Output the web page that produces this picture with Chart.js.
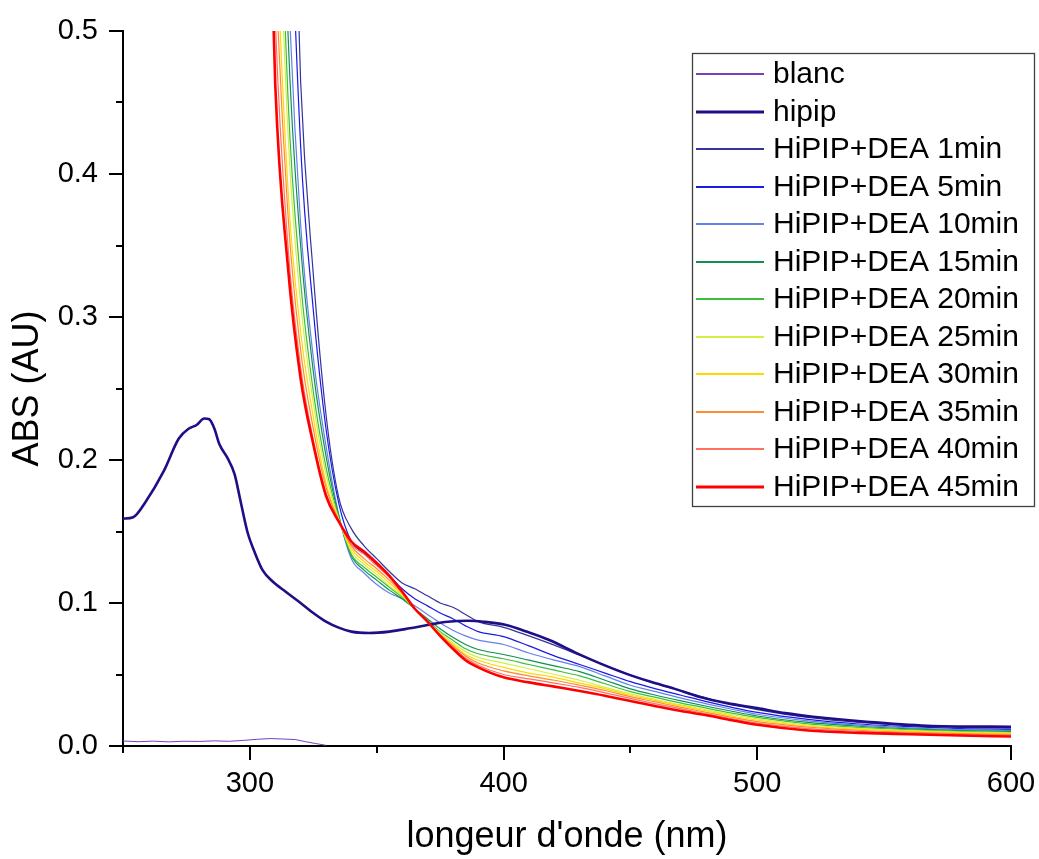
<!DOCTYPE html>
<html>
<head>
<meta charset="utf-8">
<script src="https://cdn.jsdelivr.net/npm/chart.js"></script>
<style>
  html, body { margin: 0; padding: 0; background: #fff; }
  #wrap { width: 1039px; height: 859px; position: relative; }
</style>
</head>
<body>
<div id="wrap"><canvas id="absChart"></canvas></div>
<script>
// axis ticks
const xMajorTicks = [300, 400, 500, 600];
const xMinorTicks = [250, 350, 450, 550];
const yMajorTicks = [0, 0.1, 0.2, 0.3, 0.4, 0.5];
const yMinorTicks = [0.05, 0.15, 0.25, 0.35, 0.45];

// blanc
const blancX = [250, 256, 262, 268, 274, 280, 286, 292, 298, 303, 308, 313, 318, 322, 326, 330];
const blancY = [0.0035, 0.0030, 0.0034, 0.0029, 0.0033, 0.0032, 0.0036, 0.0033, 0.0040, 0.0047, 0.0052, 0.0049, 0.0045, 0.0030, 0.0017, 0.0005];

// hipip
const hipipX = [250, 254, 259, 266, 272, 276, 279, 282, 284, 286, 288, 291, 294, 296, 299, 302, 305, 309, 314, 320,
  325, 330, 335, 340, 347, 355, 363, 370, 378, 386, 392, 401, 409, 418, 429, 438, 448, 458, 467, 477, 488, 500, 511, 522, 543, 569, 600];
const hipipY = [0.159, 0.160, 0.171, 0.192, 0.215, 0.222, 0.2245, 0.229, 0.2285, 0.222, 0.211, 0.202, 0.190, 0.174, 0.150, 0.135, 0.123, 0.115, 0.108, 0.100,
  0.093, 0.087, 0.0828, 0.080, 0.079, 0.080, 0.0823, 0.0846, 0.0869, 0.0876, 0.0869, 0.0846, 0.080, 0.0741, 0.0648, 0.0578, 0.0508, 0.0449, 0.0403, 0.0345, 0.030, 0.0265, 0.023, 0.0205, 0.017, 0.014, 0.0135];

// HiPIP+DEA series, all on the same wavelengths
const deaX = [305, 310, 315, 320, 325, 330, 335, 340, 345, 350, 355, 360, 365, 370, 375, 380, 385, 390,
  400, 410, 420, 430, 440, 450, 460, 470, 480, 490, 500, 520, 540, 560, 580, 600];
const dea1 = [1.8, 1.15, 0.76, 0.465, 0.33, 0.232, 0.174, 0.152, 0.140, 0.131, 0.122, 0.114, 0.110, 0.105, 0.100, 0.097, 0.092, 0.087,
  0.083, 0.077, 0.0705, 0.0635, 0.0565, 0.0495, 0.0435, 0.0385, 0.0335, 0.029, 0.0255, 0.020, 0.0165, 0.0145, 0.013, 0.0125];
const dea5 = [1.6, 1.05, 0.665, 0.42, 0.305, 0.222, 0.17, 0.143, 0.135, 0.127, 0.119, 0.110, 0.103, 0.098, 0.093, 0.089, 0.084, 0.080,
  0.0765, 0.070, 0.063, 0.057, 0.051, 0.045, 0.040, 0.0355, 0.031, 0.027, 0.0235, 0.0186, 0.0154, 0.0135, 0.0122, 0.0116];
const dea10 = [1.4, 0.90, 0.545, 0.365, 0.272, 0.21, 0.162, 0.131, 0.121, 0.113, 0.107, 0.103, 0.098, 0.092, 0.086, 0.081, 0.077, 0.074,
  0.071, 0.065, 0.060, 0.0555, 0.049, 0.0425, 0.038, 0.0335, 0.0295, 0.0257, 0.0222, 0.0176, 0.0146, 0.0127, 0.0115, 0.0109];
const dea15 = [1.3, 0.83, 0.50, 0.35, 0.262, 0.203, 0.161, 0.133, 0.123, 0.116, 0.109, 0.103, 0.096, 0.089, 0.082, 0.076, 0.071, 0.0675,
  0.064, 0.060, 0.056, 0.052, 0.046, 0.040, 0.0355, 0.0315, 0.0278, 0.0243, 0.021, 0.0165, 0.0138, 0.012, 0.0108, 0.0102];
const dea20 = [1.2, 0.74, 0.455, 0.325, 0.248, 0.195, 0.160, 0.134, 0.125, 0.118, 0.111, 0.104, 0.096, 0.088, 0.080, 0.074, 0.068, 0.0645,
  0.061, 0.057, 0.053, 0.049, 0.0435, 0.038, 0.034, 0.030, 0.0265, 0.023, 0.020, 0.0155, 0.013, 0.0113, 0.0102, 0.0096];
const dea25 = [1.1, 0.68, 0.43, 0.31, 0.24, 0.19, 0.159, 0.136, 0.127, 0.120, 0.112, 0.105, 0.096, 0.087, 0.079, 0.072, 0.066, 0.062,
  0.058, 0.054, 0.050, 0.046, 0.041, 0.0365, 0.0325, 0.0287, 0.0253, 0.022, 0.019, 0.0147, 0.0123, 0.0107, 0.0097, 0.0091];
const dea30 = [1.0, 0.60, 0.39, 0.29, 0.23, 0.184, 0.158, 0.138, 0.129, 0.122, 0.114, 0.106, 0.096, 0.087, 0.078, 0.071, 0.064, 0.060,
  0.055, 0.051, 0.048, 0.044, 0.040, 0.0355, 0.0317, 0.028, 0.0245, 0.021, 0.018, 0.014, 0.0117, 0.0102, 0.0092, 0.0086];
const dea35 = [0.92, 0.555, 0.372, 0.277, 0.222, 0.181, 0.158, 0.140, 0.131, 0.124, 0.116, 0.107, 0.096, 0.087, 0.078, 0.070, 0.063, 0.058,
  0.0525, 0.049, 0.046, 0.0425, 0.0388, 0.0345, 0.0308, 0.027, 0.0235, 0.020, 0.017, 0.0132, 0.011, 0.0096, 0.0086, 0.008];
const dea40 = [0.85, 0.51, 0.35, 0.265, 0.214, 0.177, 0.157, 0.141, 0.134, 0.126, 0.118, 0.108, 0.096, 0.087, 0.077, 0.069, 0.0615, 0.0565,
  0.050, 0.047, 0.044, 0.041, 0.0372, 0.0333, 0.0295, 0.026, 0.0225, 0.019, 0.016, 0.0122, 0.0102, 0.009, 0.0081, 0.0075];
const dea45 = [0.78, 0.463, 0.335, 0.257, 0.211, 0.175, 0.157, 0.143, 0.136, 0.128, 0.119, 0.108, 0.096, 0.087, 0.077, 0.068, 0.060, 0.055,
  0.048, 0.0445, 0.0415, 0.0385, 0.0352, 0.0315, 0.0278, 0.0245, 0.0215, 0.018, 0.0148, 0.0108, 0.0092, 0.0082, 0.0073, 0.0066];

const seriesLabels = ["blanc", "hipip", "HiPIP+DEA 1min", "HiPIP+DEA 5min", "HiPIP+DEA 10min", "HiPIP+DEA 15min",
  "HiPIP+DEA 20min", "HiPIP+DEA 25min", "HiPIP+DEA 30min", "HiPIP+DEA 35min", "HiPIP+DEA 40min", "HiPIP+DEA 45min"];
const seriesColors = ["#7a3ec0", "#1e0f86", "#34349c", "#1a1ae6", "#6480ee", "#0f9050", "#3cbe3c",
  "#d2f040", "#ffd800", "#ff8a30", "#ff7060", "#ff0000"];
const seriesWidths = [1, 2.6, 1.2, 1.2, 1.2, 1.2, 1.2, 1.2, 1.2, 1.2, 1.2, 2.6];

const FONT = "'Liberation Sans', Arial, sans-serif";

function pairs(xs, ys) {
  return xs.map((x, i) => ({ x: x, y: ys[i] }));
}

const seriesData = [
  pairs(blancX, blancY), pairs(hipipX, hipipY),
  pairs(deaX, dea1), pairs(deaX, dea5), pairs(deaX, dea10), pairs(deaX, dea15), pairs(deaX, dea20),
  pairs(deaX, dea25), pairs(deaX, dea30), pairs(deaX, dea35), pairs(deaX, dea40), pairs(deaX, dea45)
];

const datasets = seriesData.map((d, i) => ({
  label: seriesLabels[i],
  data: d,
  borderColor: seriesColors[i],
  backgroundColor: seriesColors[i],
  borderWidth: seriesWidths[i],
  pointRadius: 0,
  fill: false,
  cubicInterpolationMode: i === 0 ? 'default' : 'monotone',
  tension: 0,
  // red on top, then hipip, then the rest
  order: i === 11 ? 0 : (i === 1 ? 1 : 20 - i)
}));

// minor ticks, Origin style
const minorTicks = {
  id: 'minorTicks',
  afterDraw(chart) {
    const ctx = chart.ctx;
    const xs = chart.scales.x, ys = chart.scales.y;
    const area = chart.chartArea;
    ctx.save();
    ctx.strokeStyle = '#000';
    ctx.lineWidth = 2;
    ctx.beginPath();
    xMinorTicks.forEach(v => {
      const px = Math.round(xs.getPixelForValue(v));
      ctx.moveTo(px, area.bottom);
      ctx.lineTo(px, area.bottom + 7);
    });
    yMinorTicks.forEach(v => {
      const py = Math.round(ys.getPixelForValue(v));
      ctx.moveTo(area.left, py);
      ctx.lineTo(area.left - 7, py);
    });
    ctx.stroke();
    ctx.restore();
  }
};

// boxed legend inside the plot
const boxLegend = {
  id: 'boxLegend',
  afterDraw(chart) {
    const ctx = chart.ctx;
    const left = 692, top = 53, right = 1035, bottom = 507;
    const rowH = 37.5, firstY = 74;
    ctx.save();
    ctx.fillStyle = '#fff';
    ctx.fillRect(left, top, right - left, bottom - top);
    ctx.strokeStyle = '#404040';
    ctx.lineWidth = 1.3;
    ctx.strokeRect(left + 0.5, top + 0.5, right - left - 1, bottom - top - 1);
    ctx.font = '30px ' + FONT;
    ctx.textBaseline = 'middle';
    ctx.textAlign = 'left';
    chart.data.datasets.forEach((ds, i) => {
      const y = Math.round(firstY + i * rowH);
      ctx.strokeStyle = ds.borderColor;
      ctx.lineWidth = ds.borderWidth > 2 ? 3 : 2;
      ctx.beginPath();
      ctx.moveTo(696, y);
      ctx.lineTo(764, y);
      ctx.stroke();
      ctx.fillStyle = '#000';
      ctx.fillText(ds.label, 773, y + 1);
    });
    ctx.restore();
  }
};

new Chart(document.getElementById('absChart'), {
  type: 'line',
  data: { datasets: datasets },
  options: {
    responsive: true,
    maintainAspectRatio: false,
    animation: false,
    layout: { padding: { left: 0, right: 28, top: 31, bottom: 0 } },
    plugins: {
      legend: { display: false },
      tooltip: { enabled: false }
    },
    scales: {
      x: {
        type: 'linear',
        min: 250,
        max: 600,
        afterBuildTicks: axis => { axis.ticks = xMajorTicks.map(v => ({ value: v })); },
        afterFit: axis => { axis.height = 113; axis.paddingLeft = 0; axis.paddingRight = 0; },
        ticks: {
          autoSkip: false, maxRotation: 0, padding: 7, color: '#000',
          font: { family: FONT, size: 29 },
          callback: v => String(v)
        },
        grid: { drawOnChartArea: false, drawTicks: true, tickLength: 14, color: '#000', lineWidth: 2 },
        border: { display: true, color: '#000', width: 2 },
        title: {
          display: true, text: "longeur d'onde (nm)", color: '#000',
          font: { family: FONT, size: 36 }, padding: { top: 0, bottom: 0 }
        }
      },
      y: {
        type: 'linear',
        min: 0,
        max: 0.5,
        afterBuildTicks: axis => { axis.ticks = yMajorTicks.map(v => ({ value: v })); },
        afterFit: axis => { axis.width = 123; axis.paddingTop = 0; axis.paddingBottom = 0; },
        ticks: {
          padding: 11, color: '#000',
          font: { family: FONT, size: 29 },
          callback: v => v.toFixed(1)
        },
        grid: { drawOnChartArea: false, drawTicks: true, tickLength: 14, color: '#000', lineWidth: 2 },
        border: { display: true, color: '#000', width: 2 },
        title: {
          display: true, text: 'ABS (AU)', color: '#000',
          font: { family: FONT, size: 36 }, padding: { top: 6, bottom: 0 }
        }
      }
    }
  },
  plugins: [minorTicks, boxLegend]
});
</script>
</body>
</html>
